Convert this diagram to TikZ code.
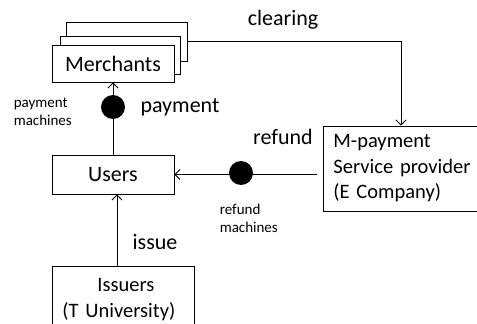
\documentclass[tikz,border=0pt]{standalone}
\usepackage{fontspec}
\setmainfont{Carlito}
\usetikzlibrary{arrows.meta}
\begin{document}
\begin{tikzpicture}[x=1pt,y=-1pt,line width=0.9pt,
    box/.style={draw,fill=white,inner sep=0pt,font=\fontsize{22}{26}\selectfont},
    dot/.style={circle,fill=black,minimum size=24pt,inner sep=0pt},
    arr/.style={-{Straight Barb[length=5pt,width=10pt,line width=0.8pt]}},
    lbl/.style={font=\fontsize{22}{26}\selectfont},
    small/.style={align=left,anchor=west,font=\fontsize{15}{18}\selectfont}]
\useasboundingbox (0,0) rectangle (477,324);
% stacked merchant boxes
\node[box,minimum width=121pt,minimum height=39pt] (merchc) at (126.5,41.5) {};
\node[box,minimum width=120pt,minimum height=38pt] (merchb) at (120,55) {};
\node[box,minimum width=122pt,minimum height=37pt] (merch) at (113,63.5) {Merchants};
\node[box,minimum width=122pt,minimum height=39pt] (users) at (113,174.5) {Users};
\node[box,anchor=west,minimum height=68pt,text width=122pt,inner xsep=10pt,align=left,
    font=\fontsize{20.5}{26}\selectfont] (iss) at (52,300) {\hspace*{35pt}Issuers\\(T University)};
\node[box,anchor=west,minimum height=85pt,text width=160pt,inner xsep=10pt,align=left,
    font=\fontsize{20.5}{25.5}\selectfont] (prov) at (323,168.5)
    {M-payment\\Service provider\\(E Company)};
% connectors
\coordinate (clr) at ([xshift=78pt]prov.north west);
\draw[arr] (merchc.east) -| (clr);
\draw[arr] (users.north) -- (merch.south);
\coordinate (rstart) at ([xshift=-6pt]prov.west |- users.east);
\draw[arr] (rstart) -- (users.east);
\draw[arr] ([xshift=65pt]iss.north west) -- ([xshift=65pt]iss.north west |- users.south);
\node[dot] (pdot) at (113,107) {};
\node[dot] (rdot) at (241,173) {};
% labels
\node[lbl] (clear) at (283,20) {clearing};
\node[lbl] (pay) at (180,107) {payment};
\node[lbl] (ref) at (283,137) {refund};
\node[lbl] (issue) at (155,242) {issue};
\node[small] (pmach) at (10,112) {payment\\machines};
\node[small] (rmach) at (216,218) {refund\\machines};
\end{tikzpicture}
\end{document}
